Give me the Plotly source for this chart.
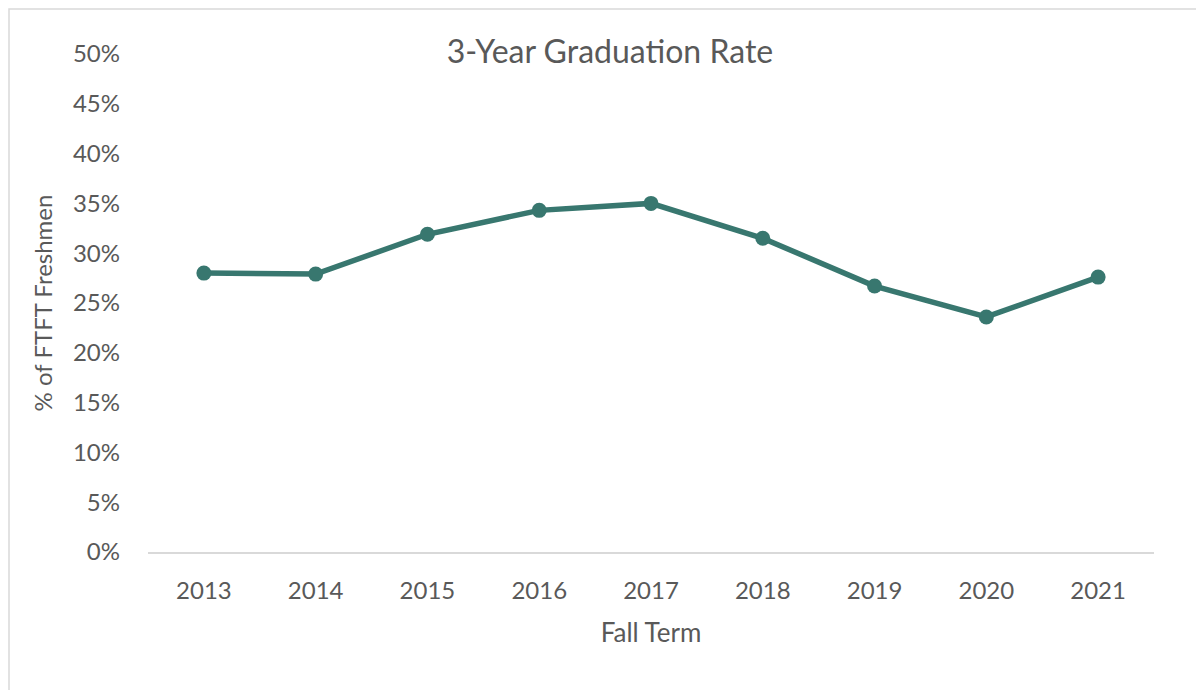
import plotly.graph_objects as go

years = ["2013", "2014", "2015", "2016", "2017", "2018", "2019", "2020", "2021"]
rates = [0.280, 0.279, 0.319, 0.343, 0.350, 0.315, 0.267, 0.236, 0.276]
y_ticks = [0, 0.05, 0.10, 0.15, 0.20, 0.25, 0.30, 0.35, 0.40, 0.45, 0.50]
y_tick_labels = ["0%", "5%", "10%", "15%", "20%", "25%", "30%", "35%", "40%", "45%", "50%"]

GRAY = "#595959"
LINE = "#38776F"
FONT = "Lato"

W, H = 1204, 690
ML, MR, MT, MB = 140, 58, 46, 146
PW, PH = W - ML - MR, H - MT - MB

fig = go.Figure()
fig.add_trace(go.Scatter(
    x=years, y=rates, mode="lines+markers",
    line=dict(color=LINE, width=5.5),
    marker=dict(color=LINE, size=15),
    showlegend=False,
))

fig.update_layout(
    width=W, height=H,
    margin=dict(l=ML, r=MR, t=MT, b=MB),
    paper_bgcolor="white", plot_bgcolor="white",
    font=dict(family=FONT, color=GRAY, size=24),
    title=dict(text="3-Year Graduation Rate", x=0.5, xanchor="center",
               y=1 - 44 / H, yanchor="middle", yref="container",
               font=dict(family=FONT, size=32, color=GRAY)),
    shapes=[dict(type="rect", xref="paper", yref="paper",
                 x0=-(ML - 1) / PW, x1=1 + (MR + 20) / PW,
                 y0=-(MB + 20) / PH, y1=1 + (MT - 1) / PH,
                 line=dict(color="#d9d9d9", width=1.5), layer="below")],
)
fig.update_xaxes(
    type="category", showgrid=False, zeroline=False,
    showline=True, linecolor="#d9d9d9", linewidth=1.5,
    ticks="", ticklabelstandoff=16,
    title=dict(text="Fall Term", font=dict(family=FONT, size=26, color=GRAY), standoff=21),
    tickfont=dict(family=FONT, size=24, color=GRAY),
    range=[-0.5, len(years) - 0.5],
)
fig.update_yaxes(
    range=[0, 0.5], tickvals=y_ticks, ticktext=y_tick_labels,
    showgrid=False, zeroline=False, showline=False,
    ticks="", ticklabelstandoff=27,
    title=dict(text="% of FTFT Freshmen", font=dict(family=FONT, size=24, color=GRAY), standoff=13),
    tickfont=dict(family=FONT, size=24, color=GRAY),
)

fig.write_html("out.html")
